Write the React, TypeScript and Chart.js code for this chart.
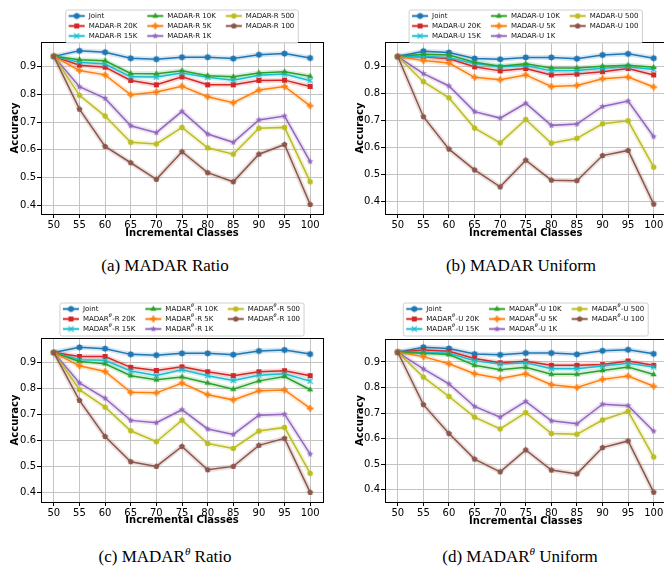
import React, { useEffect, useRef } from "react";
import { Chart, registerables } from "chart.js";
Chart.register(...registerables);

// ---------------- data ----------------
const classes = [50, 55, 60, 65, 70, 75, 80, 85, 90, 95, 100];
const accuracyTicks = [0.4, 0.5, 0.6, 0.7, 0.8, 0.9];
const budgets = ["20K", "15K", "10K", "5K", "1K", "500", "100"];

const joint = [0.938, 0.958, 0.953, 0.931, 0.928, 0.935, 0.935, 0.930, 0.944, 0.948, 0.932];

// (a) MADAR Ratio
const ratio20K = [0.938, 0.906, 0.899, 0.851, 0.835, 0.864, 0.835, 0.835, 0.851, 0.852, 0.829];
const ratio15K = [0.938, 0.917, 0.910, 0.864, 0.863, 0.878, 0.862, 0.852, 0.870, 0.874, 0.850];
const ratio10K = [0.938, 0.926, 0.922, 0.876, 0.875, 0.886, 0.868, 0.864, 0.878, 0.882, 0.866];
const ratio5K = [0.938, 0.887, 0.871, 0.799, 0.809, 0.830, 0.792, 0.770, 0.816, 0.829, 0.759];
const ratio1K = [0.938, 0.828, 0.786, 0.687, 0.662, 0.739, 0.657, 0.627, 0.708, 0.722, 0.557];
const ratio500 = [0.938, 0.797, 0.722, 0.627, 0.621, 0.681, 0.607, 0.584, 0.678, 0.681, 0.484];
const ratio100 = [0.938, 0.747, 0.612, 0.553, 0.493, 0.593, 0.517, 0.484, 0.584, 0.619, 0.402];

// (b) MADAR Uniform
const uniform20K = [0.938, 0.937, 0.930, 0.900, 0.885, 0.894, 0.870, 0.873, 0.882, 0.894, 0.870];
const uniform15K = [0.938, 0.939, 0.934, 0.912, 0.900, 0.905, 0.885, 0.886, 0.895, 0.900, 0.890];
const uniform10K = [0.938, 0.947, 0.944, 0.917, 0.902, 0.911, 0.896, 0.896, 0.902, 0.906, 0.898];
const uniform5K = [0.938, 0.923, 0.914, 0.861, 0.852, 0.870, 0.827, 0.831, 0.856, 0.862, 0.825];
const uniform1K = [0.938, 0.875, 0.829, 0.734, 0.710, 0.765, 0.683, 0.688, 0.753, 0.773, 0.641];
const uniform500 = [0.938, 0.845, 0.785, 0.673, 0.618, 0.705, 0.617, 0.635, 0.689, 0.700, 0.528];
const uniform100 = [0.938, 0.715, 0.595, 0.518, 0.455, 0.554, 0.480, 0.478, 0.571, 0.590, 0.391];

// (c) MADAR-theta Ratio
const thetaRatio20K = [0.938, 0.923, 0.923, 0.881, 0.869, 0.883, 0.864, 0.849, 0.864, 0.868, 0.849];
const thetaRatio15K = [0.938, 0.910, 0.908, 0.867, 0.850, 0.872, 0.849, 0.831, 0.851, 0.856, 0.828];
const thetaRatio10K = [0.938, 0.904, 0.895, 0.849, 0.833, 0.844, 0.821, 0.797, 0.829, 0.846, 0.795];
const thetaRatio5K = [0.938, 0.887, 0.865, 0.785, 0.783, 0.821, 0.776, 0.756, 0.791, 0.794, 0.723];
const thetaRatio1K = [0.938, 0.821, 0.762, 0.677, 0.668, 0.718, 0.644, 0.623, 0.697, 0.701, 0.547];
const thetaRatio500 = [0.938, 0.795, 0.728, 0.637, 0.595, 0.678, 0.588, 0.569, 0.636, 0.650, 0.473];
const thetaRatio100 = [0.938, 0.754, 0.615, 0.518, 0.500, 0.577, 0.487, 0.500, 0.581, 0.608, 0.400];

// (d) MADAR-theta Uniform
const thetaUniform20K = [0.938, 0.947, 0.942, 0.914, 0.897, 0.903, 0.887, 0.887, 0.890, 0.904, 0.887];
const thetaUniform15K = [0.938, 0.938, 0.934, 0.905, 0.892, 0.897, 0.874, 0.874, 0.884, 0.895, 0.880];
const thetaUniform10K = [0.938, 0.934, 0.929, 0.887, 0.870, 0.879, 0.852, 0.852, 0.867, 0.880, 0.851];
const thetaUniform5K = [0.938, 0.921, 0.893, 0.854, 0.835, 0.854, 0.811, 0.800, 0.832, 0.845, 0.805];
const thetaUniform1K = [0.938, 0.873, 0.814, 0.726, 0.684, 0.746, 0.670, 0.658, 0.735, 0.729, 0.629];
const thetaUniform500 = [0.938, 0.841, 0.765, 0.684, 0.638, 0.702, 0.620, 0.617, 0.673, 0.707, 0.528];
const thetaUniform100 = [0.938, 0.733, 0.620, 0.520, 0.470, 0.556, 0.477, 0.462, 0.565, 0.591, 0.390];

// ---------------- styles ----------------
const colors = ["#1f77b4", "#d62728", "#17becf", "#2ca02c", "#ff7f0e", "#9467bd", "#bcbd22", "#8c564b"];
const markerKinds = ["hex", "square", "x", "tri", "plus", "star", "circle", "pent"];
const FONT = '"DejaVu Sans", sans-serif';

function hexA(hex: string, a: number) {
  const n = parseInt(hex.slice(1), 16);
  return `rgba(${(n >> 16) & 255},${(n >> 8) & 255},${n & 255},${a})`;
}

function makeMarker(kind: string, color: string): HTMLCanvasElement {
  const s = 9;
  const c = document.createElement("canvas");
  c.width = s;
  c.height = s;
  const g = c.getContext("2d")!;
  const m = s / 2;
  g.fillStyle = color;
  g.strokeStyle = color;
  const poly = (pts: [number, number][]) => {
    g.beginPath();
    pts.forEach(([px, py], k) => (k ? g.lineTo(px, py) : g.moveTo(px, py)));
    g.closePath();
    g.fill();
  };
  const reg = (n: number, r: number) => {
    const pts: [number, number][] = [];
    for (let k = 0; k < n; k++) {
      const a = -Math.PI / 2 + (k * 2 * Math.PI) / n;
      pts.push([m + r * Math.cos(a), m + r * Math.sin(a)]);
    }
    poly(pts);
  };
  switch (kind) {
    case "hex":
      reg(6, 3.3);
      break;
    case "square":
      g.fillRect(m - 2.5, m - 2.5, 5, 5);
      break;
    case "x":
      g.lineWidth = 1.3;
      g.beginPath();
      g.moveTo(m - 2.6, m - 2.6);
      g.lineTo(m + 2.6, m + 2.6);
      g.moveTo(m + 2.6, m - 2.6);
      g.lineTo(m - 2.6, m + 2.6);
      g.stroke();
      break;
    case "tri":
      reg(3, 3.5);
      break;
    case "plus":
      g.fillRect(m - 3.2, m - 1.1, 6.4, 2.2);
      g.fillRect(m - 1.1, m - 3.2, 2.2, 6.4);
      break;
    case "star": {
      const pts: [number, number][] = [];
      for (let k = 0; k < 10; k++) {
        const a = -Math.PI / 2 + (k * Math.PI) / 5;
        const r = k % 2 ? 1.4 : 3.4;
        pts.push([m + r * Math.cos(a), m + r * Math.sin(a)]);
      }
      poly(pts);
      break;
    }
    case "circle":
      g.beginPath();
      g.arc(m, m, 2.7, 0, Math.PI * 2);
      g.fill();
      break;
    case "pent":
      reg(5, 3.1);
      break;
  }
  return c;
}

type Area = { left: number; right: number; top: number; bottom: number };
type PanelProps = {
  left: number;
  top: number;
  width: number;
  height: number;
  area: Area;
  yMin: number;
  yMax: number;
  series: number[][];
  suffix: string;
  theta: boolean;
  legendTop: number;
  yTitlePad: number;
  xTitlePad: number;
};

function Panel(p: PanelProps) {
  const ref = useRef<HTMLCanvasElement | null>(null);
  useEffect(() => {
    if (!ref.current) return;
    const markers = colors.map((c, i) => makeMarker(markerKinds[i], c));
    const names = ["Joint", ...budgets.map((b) => `${p.suffix} ${b}`)];
    const bands = p.series.map((vals, i) => ({
      data: classes.map((c, j) => ({ x: c, y: vals[j] })),
      borderColor: hexA(colors[i], 0.18),
      borderWidth: 5,
      pointRadius: 0,
      order: 100 + i,
    }));
    const lines = p.series.map((vals, i) => ({
      label: names[i],
      data: classes.map((c, j) => ({ x: c, y: vals[j] })),
      borderColor: colors[i],
      backgroundColor: colors[i],
      borderWidth: 1.5,
      pointStyle: markers[i] as any,
      pointRadius: 3,
      order: 20 - i,
    }));

    const frame = {
      id: "frame",
      afterDatasetsDraw(chart: any) {
        const { ctx, chartArea: a } = chart;
        ctx.save();
        ctx.strokeStyle = "#000";
        ctx.lineWidth = 1;
        ctx.strokeRect(Math.round(a.left) + 0.5, Math.round(a.top) + 0.5, Math.round(a.right - a.left), Math.round(a.bottom - a.top));
        ctx.restore();
      },
    };

    const legend = {
      id: "mlegend",
      afterDraw(chart: any) {
        const { ctx, chartArea: a } = chart;
        ctx.save();
        const fMain = `7px ${FONT}`;
        const fSup = `italic 5px ${FONT}`;
        const measure = (i: number) => {
          if (i === 0 || !p.theta) {
            ctx.font = fMain;
            return ctx.measureText(names[i]).width;
          }
          ctx.font = fMain;
          const w1 = ctx.measureText("MADAR").width;
          const w3 = ctx.measureText(names[i].replace("MADAR", "")).width;
          ctx.font = fSup;
          const w2 = ctx.measureText("θ").width + 0.5;
          return w1 + w2 + w3;
        };
        const cols = [[0, 1, 2], [3, 4, 5], [6, 7]];
        const handle = 16, gap = 4, padL = 3, padR = 4, colSp = 10;
        const colW = cols.map((col) => Math.max(...col.map(measure)));
        const totalW = padL + colW.reduce((s, w) => s + handle + gap + w, 0) + colSp * 2 + padR;
        const boxL = (a.left + a.right) / 2 - totalW / 2;
        const boxT = p.legendTop;
        const boxH = 33;
        ctx.beginPath();
        const r = 2;
        ctx.moveTo(boxL + r, boxT);
        ctx.arcTo(boxL + totalW, boxT, boxL + totalW, boxT + boxH, r);
        ctx.arcTo(boxL + totalW, boxT + boxH, boxL, boxT + boxH, r);
        ctx.arcTo(boxL, boxT + boxH, boxL, boxT, r);
        ctx.arcTo(boxL, boxT, boxL + totalW, boxT, r);
        ctx.closePath();
        ctx.fillStyle = "rgba(255,255,255,0.85)";
        ctx.fill();
        ctx.strokeStyle = "#d0d0d0";
        ctx.lineWidth = 1;
        ctx.stroke();
        let x0 = boxL + padL;
        cols.forEach((col, ci) => {
          col.forEach((i, ri) => {
            const y = boxT + 6 + ri * 10;
            ctx.strokeStyle = hexA(colors[i], 0.2);
            ctx.lineWidth = 4;
            ctx.beginPath();
            ctx.moveTo(x0, y);
            ctx.lineTo(x0 + handle, y);
            ctx.stroke();
            ctx.strokeStyle = colors[i];
            ctx.lineWidth = 1.5;
            ctx.beginPath();
            ctx.moveTo(x0, y);
            ctx.lineTo(x0 + handle, y);
            ctx.stroke();
            const mk = markers[i];
            ctx.drawImage(mk, x0 + handle / 2 - mk.width / 2, y - mk.height / 2);
            ctx.fillStyle = "#111";
            ctx.textBaseline = "middle";
            ctx.textAlign = "left";
            let tx = x0 + handle + gap;
            if (i > 0 && p.theta) {
              ctx.font = fMain;
              ctx.fillText("MADAR", tx, y);
              tx += ctx.measureText("MADAR").width;
              ctx.font = fSup;
              ctx.fillText("θ", tx, y - 3);
              tx += ctx.measureText("θ").width + 0.5;
              ctx.font = fMain;
              ctx.fillText(names[i].replace("MADAR", ""), tx, y);
            } else {
              ctx.font = fMain;
              ctx.fillText(names[i], tx, y);
            }
          });
          x0 += handle + gap + colW[ci] + colSp;
        });
        ctx.restore();
      },
    };

    const chart = new Chart(ref.current, {
      type: "line",
      data: { datasets: [...bands, ...lines] as any },
      options: {
        responsive: false,
        animation: false,
        devicePixelRatio: 1,
        layout: { padding: { left: 0, top: p.area.top, right: p.width - p.area.right, bottom: 0 } },
        plugins: { legend: { display: false }, tooltip: { enabled: false } },
        elements: { line: { tension: 0 } },
        scales: {
          x: {
            type: "linear",
            min: 47.5,
            max: 102.5,
            afterBuildTicks: (s: any) => {
              s.ticks = classes.map((v) => ({ value: v }));
            },
            afterFit: (s: any) => {
              s.height = p.height - p.area.bottom;
            },
            ticks: {
              autoSkip: false,
              maxRotation: 0,
              padding: 1,
              color: "#000",
              font: { family: FONT, size: 10 },
              callback: (v: any) => String(v),
            },
            grid: { color: "#c4c4c4", tickColor: "#000", tickLength: 4, lineWidth: 1 },
            border: { display: false },
            title: {
              display: true,
              text: "Incremental Classes",
              color: "#000",
              font: { family: FONT, size: 10, weight: "bold" },
              padding: { top: 0, bottom: p.xTitlePad },
            },
          },
          y: {
            type: "linear",
            min: p.yMin,
            max: p.yMax,
            afterBuildTicks: (s: any) => {
              s.ticks = accuracyTicks.map((v) => ({ value: v }));
            },
            afterFit: (s: any) => {
              s.width = p.area.left;
            },
            ticks: {
              padding: 1,
              color: "#000",
              font: { family: FONT, size: 10 },
              callback: (v: any) => Number(v).toFixed(1),
            },
            grid: { color: "#c4c4c4", tickColor: "#000", tickLength: 4, lineWidth: 1 },
            border: { display: false },
            title: {
              display: true,
              text: "Accuracy",
              color: "#000",
              font: { family: FONT, size: 10, weight: "bold" },
              padding: { top: p.yTitlePad, bottom: 0 },
            },
          },
        },
      } as any,
      plugins: [frame, legend],
    });
    return () => chart.destroy();
  }, []);
  return (
    <canvas
      ref={ref}
      width={p.width}
      height={p.height}
      style={{ position: "absolute", left: p.left, top: p.top, width: p.width, height: p.height }}
    />
  );
}

const panels: PanelProps[] = [
  {
    left: 0, top: 0, width: 332, height: 240,
    area: { left: 41, right: 323, top: 42, bottom: 214 },
    yMin: 0.3675, yMax: 0.99,
    series: [joint, ratio20K, ratio15K, ratio10K, ratio5K, ratio1K, ratio500, ratio100],
    suffix: "MADAR-R", theta: false, legendTop: 10, yTitlePad: 9, xTitlePad: 1,
  },
  {
    left: 332, top: 0, width: 340, height: 240,
    area: { left: 53, right: 336, top: 42, bottom: 214 },
    yMin: 0.3545, yMax: 0.992,
    series: [joint, uniform20K, uniform15K, uniform10K, uniform5K, uniform1K, uniform500, uniform100],
    suffix: "MADAR-U", theta: false, legendTop: 10, yTitlePad: 22, xTitlePad: 1,
  },
  {
    left: 0, top: 290, width: 332, height: 240,
    area: { left: 41, right: 323, top: 48, bottom: 212 },
    yMin: 0.363, yMax: 0.994,
    series: [joint, thetaRatio20K, thetaRatio15K, thetaRatio10K, thetaRatio5K, thetaRatio1K, thetaRatio500, thetaRatio100],
    suffix: "MADAR-R", theta: true, legendTop: 13, yTitlePad: 9, xTitlePad: 4,
  },
  {
    left: 332, top: 290, width: 340, height: 240,
    area: { left: 53, right: 336, top: 49, bottom: 212 },
    yMin: 0.352, yMax: 0.99,
    series: [joint, thetaUniform20K, thetaUniform15K, thetaUniform10K, thetaUniform5K, thetaUniform1K, thetaUniform500, thetaUniform100],
    suffix: "MADAR-U", theta: true, legendTop: 13, yTitlePad: 22, xTitlePad: 3,
  },
];

const captionStyle = (cx: number, cy: number): React.CSSProperties => ({
  position: "absolute",
  left: cx - 150,
  top: cy - 11,
  width: 300,
  height: 22,
  lineHeight: "22px",
  textAlign: "center",
  fontFamily: '"Liberation Serif", "Times New Roman", serif',
  fontSize: 17,
  color: "#000",
  whiteSpace: "nowrap",
});
const supStyle: React.CSSProperties = { fontSize: 11, fontStyle: "italic", position: "relative", top: -7 };

export default function App() {
  return (
    <div style={{ position: "absolute", left: 0, top: 0, width: 664, height: 575, overflow: "hidden", background: "#fff" }}>
      {panels.map((p, i) => (
        <Panel key={i} {...p} />
      ))}
      <div style={captionStyle(165, 266)}>(a) MADAR Ratio</div>
      <div style={captionStyle(521, 266)}>(b) MADAR Uniform</div>
      <div style={captionStyle(165, 557)}>
        (c) MADAR<span style={supStyle}>θ</span> Ratio
      </div>
      <div style={captionStyle(520, 557)}>
        (d) MADAR<span style={supStyle}>θ</span> Uniform
      </div>
    </div>
  );
}
